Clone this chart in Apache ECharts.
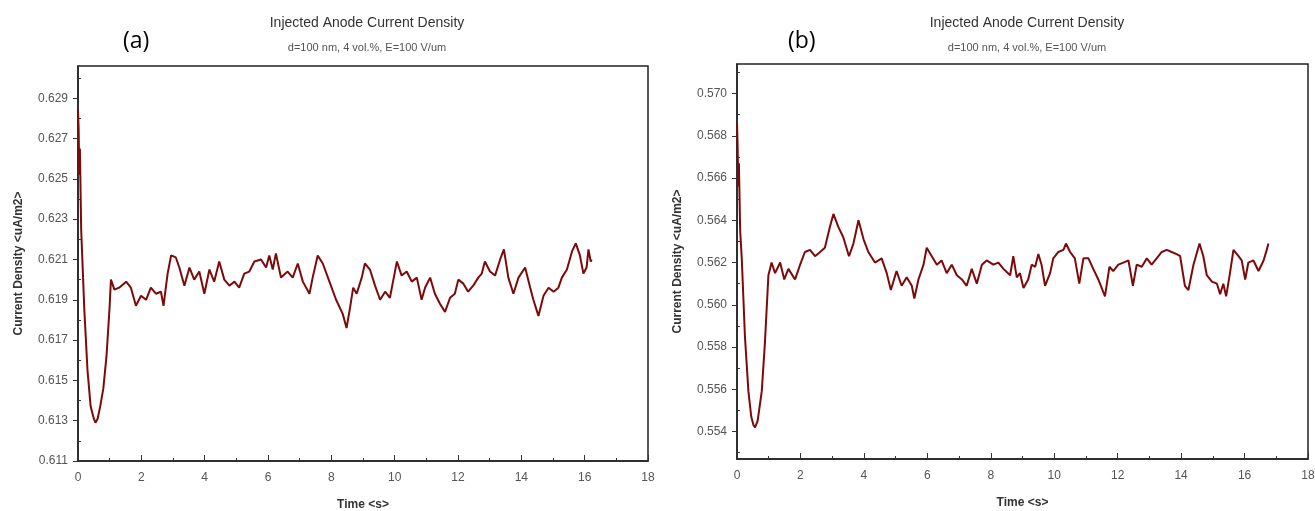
<!DOCTYPE html>
<html>
<head>
<meta charset="utf-8">
<script src="https://cdn.jsdelivr.net/npm/echarts@6/dist/echarts.min.js"></script>
<style>
  body { margin: 0; background: #fff; }
  #main { width: 1315px; height: 511px; }
</style>
</head>
<body>
<div id="main"></div>
<script>
// (a) time [s], current density [uA/m2]
var curveA = [
  [0, 0.6284], [0.02, 0.6275], [0.04, 0.6252], [0.06, 0.6265], [0.1, 0.6225], [0.2, 0.6185],
  [0.3, 0.6155], [0.4, 0.6137], [0.5, 0.6131], [0.55, 0.6129], [0.62, 0.6131], [0.7, 0.6137],
  [0.8, 0.6146], [0.9, 0.6162], [1.0, 0.6187], [1.04, 0.6200], [1.15, 0.6195], [1.30, 0.6196],
  [1.52, 0.6199], [1.67, 0.6196], [1.83, 0.6187], [1.99, 0.6192], [2.15, 0.6190], [2.30, 0.6196],
  [2.46, 0.6193], [2.62, 0.6194], [2.70, 0.6187], [2.83, 0.6203], [2.94, 0.6212], [3.09, 0.6211],
  [3.20, 0.6206], [3.36, 0.6197], [3.52, 0.6206], [3.67, 0.6200], [3.83, 0.6204], [3.99, 0.6193],
  [4.15, 0.6205], [4.30, 0.6199], [4.46, 0.6209], [4.62, 0.6200], [4.78, 0.6197], [4.94, 0.6199],
  [5.09, 0.6196], [5.25, 0.6203], [5.41, 0.6204], [5.57, 0.6209], [5.78, 0.6210], [5.94, 0.6206],
  [6.04, 0.6212], [6.15, 0.6205], [6.25, 0.6213], [6.41, 0.6201], [6.62, 0.6204], [6.78, 0.6201],
  [6.94, 0.6208], [7.10, 0.6199], [7.31, 0.6193], [7.41, 0.6201], [7.57, 0.6212], [7.73, 0.6208],
  [7.94, 0.6199], [8.15, 0.6190], [8.36, 0.6183], [8.48, 0.6176], [8.59, 0.6186], [8.69, 0.6196],
  [8.80, 0.6193], [8.96, 0.6201], [9.06, 0.6208], [9.22, 0.6205], [9.38, 0.6197], [9.54, 0.6190],
  [9.70, 0.6194], [9.85, 0.6191], [9.96, 0.6200], [10.07, 0.6209], [10.22, 0.6202], [10.38, 0.6204],
  [10.54, 0.6199], [10.70, 0.6201], [10.85, 0.6190], [10.96, 0.6196], [11.12, 0.6201], [11.27, 0.6193],
  [11.43, 0.6188], [11.59, 0.6184], [11.75, 0.6191], [11.90, 0.6193], [12.01, 0.6200], [12.17, 0.6198],
  [12.32, 0.6194], [12.48, 0.6197], [12.64, 0.6201], [12.75, 0.6203], [12.85, 0.6209], [13.01, 0.6204],
  [13.17, 0.6202], [13.33, 0.6210], [13.45, 0.6215], [13.59, 0.6201], [13.75, 0.6193], [13.91, 0.6201],
  [14.12, 0.6206], [14.28, 0.6196], [14.38, 0.6190], [14.54, 0.6182], [14.70, 0.6192], [14.86, 0.6196],
  [15.02, 0.6194], [15.17, 0.6196], [15.28, 0.6201], [15.44, 0.6205], [15.60, 0.6214], [15.72, 0.6218],
  [15.85, 0.6212], [15.96, 0.6203], [16.06, 0.6206], [16.12, 0.6215], [16.19, 0.6209], [16.22, 0.6210]
];

// (b)
var curveB = [
  [0, 0.5686], [0.02, 0.5675], [0.04, 0.5656], [0.06, 0.5667], [0.1, 0.5635], [0.15, 0.5622],
  [0.25, 0.5585], [0.36, 0.5559], [0.45, 0.5547], [0.52, 0.5543], [0.57, 0.5542], [0.65, 0.5545],
  [0.78, 0.5559], [0.88, 0.5582], [0.99, 0.5614], [1.04, 0.5617], [1.09, 0.5620], [1.20, 0.5615],
  [1.36, 0.5620], [1.49, 0.5612], [1.62, 0.5617], [1.83, 0.5612], [1.99, 0.5619], [2.14, 0.5625],
  [2.30, 0.5626], [2.46, 0.5623], [2.62, 0.5625], [2.77, 0.5627], [2.93, 0.5637], [3.04, 0.5643],
  [3.19, 0.5637], [3.35, 0.5632], [3.53, 0.5623], [3.67, 0.5629], [3.83, 0.5640], [3.99, 0.5631],
  [4.14, 0.5625], [4.35, 0.5620], [4.56, 0.5622], [4.72, 0.5615], [4.85, 0.5607], [5.03, 0.5616],
  [5.19, 0.5609], [5.35, 0.5613], [5.51, 0.5609], [5.59, 0.5603], [5.72, 0.5612], [5.88, 0.5619],
  [5.98, 0.5627], [6.14, 0.5623], [6.30, 0.5619], [6.45, 0.5621], [6.61, 0.5615], [6.77, 0.5619],
  [6.93, 0.5614], [7.09, 0.5612], [7.24, 0.5609], [7.40, 0.5617], [7.56, 0.5610], [7.72, 0.5619],
  [7.87, 0.5621], [8.08, 0.5619], [8.24, 0.5620], [8.40, 0.5617], [8.61, 0.5614], [8.71, 0.5623],
  [8.82, 0.5613], [8.92, 0.5615], [9.03, 0.5608], [9.18, 0.5612], [9.29, 0.5619], [9.40, 0.5618],
  [9.50, 0.5624], [9.60, 0.5619], [9.71, 0.5609], [9.87, 0.5615], [9.97, 0.5622], [10.13, 0.5625],
  [10.29, 0.5626], [10.37, 0.5629], [10.50, 0.5625], [10.65, 0.5622], [10.79, 0.5610], [10.92, 0.5622],
  [11.08, 0.5622], [11.23, 0.5617], [11.39, 0.5612], [11.60, 0.5604], [11.74, 0.5618], [11.86, 0.5616],
  [12.02, 0.5619], [12.18, 0.5620], [12.34, 0.5621], [12.48, 0.5609], [12.60, 0.5619], [12.76, 0.5618],
  [12.92, 0.5622], [13.07, 0.5619], [13.23, 0.5622], [13.39, 0.5625], [13.55, 0.5626], [13.70, 0.5625],
  [13.86, 0.5624], [13.97, 0.5623], [14.12, 0.5609], [14.23, 0.5607], [14.39, 0.5619], [14.58, 0.5629],
  [14.70, 0.5623], [14.81, 0.5614], [14.97, 0.5611], [15.13, 0.5610], [15.23, 0.5605], [15.33, 0.5610],
  [15.42, 0.5604], [15.54, 0.5615], [15.65, 0.5626], [15.81, 0.5623], [15.91, 0.5621], [16.02, 0.5612],
  [16.12, 0.5620], [16.28, 0.5621], [16.44, 0.5616], [16.60, 0.5621], [16.70, 0.5626], [16.75, 0.5629]
];

// y tick labels and minor ticks
var ticksA = [0.611, 0.613, 0.615, 0.617, 0.619, 0.621, 0.623, 0.625, 0.627, 0.629];
var minorA = [0.612, 0.614, 0.616, 0.618, 0.620, 0.622, 0.624, 0.626, 0.628, 0.630];
var ticksB = [0.554, 0.556, 0.558, 0.560, 0.562, 0.564, 0.566, 0.568, 0.570];
var minorB = [0.553, 0.555, 0.557, 0.559, 0.561, 0.563, 0.565, 0.567, 0.569, 0.571];

var font = "'Liberation Sans', Arial, sans-serif";
var lineColor = "#7d0a0a";

function xAxisFor(idx) {
  return {
    gridIndex: idx,
    type: "value",
    min: 0,
    max: 18,
    interval: 2,
    name: "Time <s>",
    nameLocation: "middle",
    nameGap: 38,
    nameTextStyle: { fontFamily: font, fontSize: 12, fontWeight: "bold", color: "#333" },
    axisLine: { lineStyle: { color: "#222", width: 1.5 } },
    axisTick: { inside: true, length: 6, lineStyle: { color: "#333" } },
    minorTick: { show: true, splitNumber: 2, length: 3, lineStyle: { color: "#333" } },
    axisLabel: { fontFamily: font, fontSize: 12, color: "#555", margin: 11 },
    splitLine: { show: false }
  };
}

function yAxisFor(idx, min, max, ticks) {
  return {
    gridIndex: idx,
    type: "value",
    min: min,
    max: max,
    name: "Current Density <uA/m2>",
    nameLocation: "middle",
    nameGap: 53,
    nameTextStyle: { fontFamily: font, fontSize: 12, fontWeight: "bold", color: "#333" },
    axisLine: { show: true, lineStyle: { color: "#222", width: 1.5 } },
    axisTick: { show: true, length: 5, customValues: ticks, lineStyle: { color: "#333" } },
    axisLabel: {
      fontFamily: font, fontSize: 12, color: "#555", margin: 10,
      customValues: ticks,
      formatter: function (v) { return v.toFixed(3); }
    },
    splitLine: { show: false }
  };
}

// second axis on same scale only to draw the small ticks
function minorAxisFor(idx, min, max, ticks) {
  return {
    gridIndex: idx,
    type: "value",
    position: "left",
    min: min,
    max: max,
    axisLine: { show: false },
    axisTick: { show: true, inside: true, length: 3, customValues: ticks, lineStyle: { color: "#333" } },
    axisLabel: { show: false },
    splitLine: { show: false }
  };
}

var chart = echarts.init(document.getElementById("main"));
chart.setOption({
  animation: false,
  backgroundColor: "#fff",
  title: [
    {
      text: "Injected Anode Current Density",
      subtext: "d=100 nm, 4 vol.%, E=100 V/um",
      left: 362, top: 11, textAlign: "center", itemGap: 12,
      textStyle: { fontFamily: font, fontSize: 14, fontWeight: "normal", color: "#333" },
      subtextStyle: { fontFamily: font, fontSize: 11, color: "#555" }
    },
    {
      text: "Injected Anode Current Density",
      subtext: "d=100 nm, 4 vol.%, E=100 V/um",
      left: 1022, top: 11, textAlign: "center", itemGap: 12,
      textStyle: { fontFamily: font, fontSize: 14, fontWeight: "normal", color: "#333" },
      subtextStyle: { fontFamily: font, fontSize: 11, color: "#555" }
    },
    {
      text: "(a)", left: 118, top: 25,
      textStyle: { fontFamily: "'Open Sans', sans-serif", fontSize: 23, fontWeight: "normal", color: "#000" }
    },
    {
      text: "(b)", left: 783, top: 25,
      textStyle: { fontFamily: "'Open Sans', sans-serif", fontSize: 23, fontWeight: "normal", color: "#000" }
    }
  ],
  grid: [
    { left: 78, top: 66, width: 570, height: 395, outerBoundsMode: "none",
      show: true, borderColor: "#222", borderWidth: 1.5 },
    { left: 737, top: 64, width: 571, height: 395, outerBoundsMode: "none",
      show: true, borderColor: "#222", borderWidth: 1.5 }
  ],
  xAxis: [xAxisFor(0), xAxisFor(1)],
  yAxis: [
    yAxisFor(0, 0.611, 0.6306, ticksA),
    yAxisFor(1, 0.5527, 0.5714, ticksB),
    minorAxisFor(0, 0.611, 0.6306, minorA),
    minorAxisFor(1, 0.5527, 0.5714, minorB)
  ],
  series: [
    {
      type: "line", xAxisIndex: 0, yAxisIndex: 0, data: curveA,
      showSymbol: false, lineStyle: { color: lineColor, width: 2 }
    },
    {
      type: "line", xAxisIndex: 1, yAxisIndex: 1, data: curveB,
      showSymbol: false, lineStyle: { color: lineColor, width: 2 }
    }
  ]
});
</script>
</body>
</html>
